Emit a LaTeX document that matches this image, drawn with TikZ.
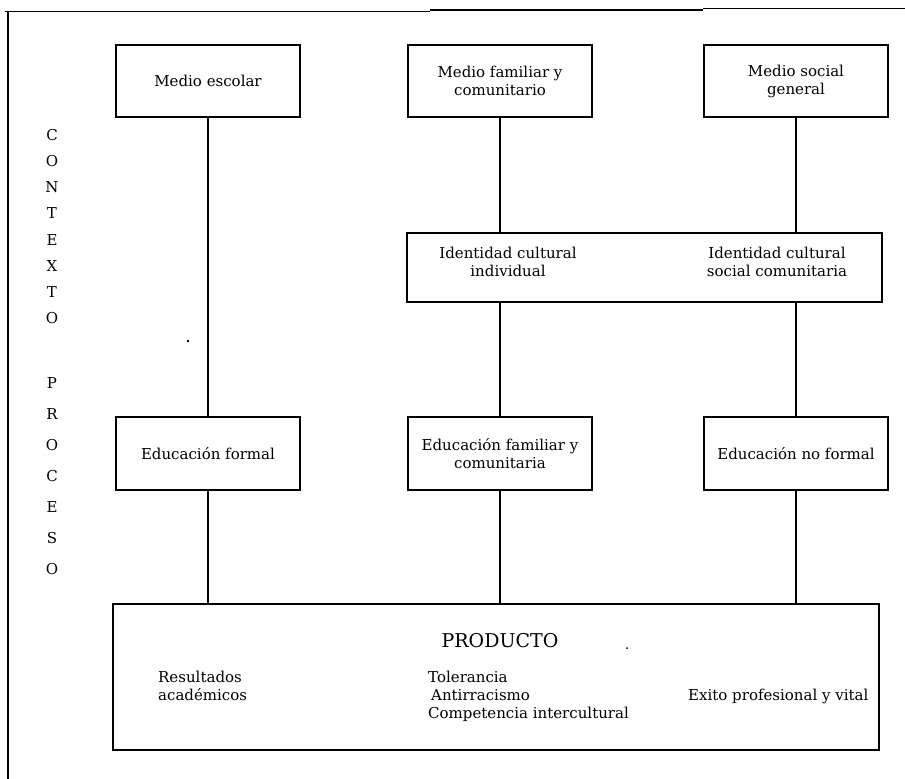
\documentclass[tikz,border=0pt]{standalone}
\usepackage{fontspec}
\setmainfont{DejaVu Serif}
\begin{document}
\begin{tikzpicture}[x=1pt,y=-1pt,
  box/.style={draw, line width=1.1pt, inner sep=0pt, align=center, font=\fontsize{15}{18}\selectfont},
  conn/.style={line width=1.1pt},
  frameline/.style={line width=1.2pt},
  txt/.style={inner sep=0pt, font=\fontsize{15}{18}\selectfont},
  big/.style={inner sep=0pt, font=\fontsize{19}{22}\selectfont},
  dotmark/.style={fill=black}
  ]
\useasboundingbox (0,0) rectangle (905,779);
% frame (slightly stepped, as scanned)
\draw[frameline] (5,11.5) -- (430,11.5);
\draw[frameline] (430,10) -- (703,10);
\draw[frameline] (703,8.5) -- (905,8.5);
\draw[frameline] (8,11) -- (8,779);
% top boxes
\node[box, minimum width=184pt, minimum height=72pt] (m1) at (208,81) {Medio escolar};
\node[box, minimum width=184pt, minimum height=72pt] (m2) at (500,81) {Medio familiar y\\comunitario};
\node[box, minimum width=184pt, minimum height=72pt] (m3) at (796,81) {Medio social\\general};
% identity box
\node[box, minimum width=475pt, minimum height=69pt] (id) at (644.5,267.5) {};
\node[txt, align=center] (id1) at (508,262) {Identidad cultural\\individual};
\node[txt, align=center] (id2) at (777,262) {Identidad cultural\\social comunitaria};
% education boxes
\node[box, minimum width=184pt, minimum height=73pt] (ef) at (208,453.5) {Educación formal};
\node[box, minimum width=184pt, minimum height=73pt] (efc) at (500,453.5) {Educación familiar y\\comunitaria};
\node[box, minimum width=184pt, minimum height=73pt] (enf) at (796,453.5) {Educación no formal};
% product box
\node[box, minimum width=766pt, minimum height=146pt] (pr) at (496,677) {};
\node[big, anchor=base] (prt) at (500,647) {PRODUCTO};
\node[txt, anchor=base west] (r1) at (158,682) {Resultados};
\node[txt, anchor=base west] (r2) at (158,700) {académicos};
\node[txt, anchor=base west] (t1) at (428,682) {Tolerancia};
\node[txt, anchor=base west] (t2) at (431,700) {Antirracismo};
\node[txt, anchor=base west] (t3) at (428,718) {Competencia intercultural};
\node[txt, anchor=base west] (e1) at (688,700) {Exito profesional y vital};
% side letters
\foreach \ch/\yy [count=\k] in {C/135,O/161,N/187,T/213,E/240,X/266,T/292,O/318,P/383,R/414,O/445,C/476,E/507,S/538,O/569}
  \node[txt] (L\k) at (52,\yy) {\ch};
% connectors
\draw[conn] (m1) -- (ef);
\draw[conn] (m2.south) -- (m2.south |- id.north);
\draw[conn] (m3.south) -- (m3.south |- id.north);
\draw[conn] (efc.north |- id.south) -- (efc.north);
\draw[conn] (enf.north |- id.south) -- (enf.north);
\draw[conn] (ef.south) -- (ef.south |- pr.north);
\draw[conn] (efc.south) -- (efc.south |- pr.north);
\draw[conn] (enf.south) -- (enf.south |- pr.north);
% specks
\fill[dotmark] (188,341) circle (1.4pt);
\fill[dotmark] (627,648) circle (1pt);
\end{tikzpicture}
\end{document}
